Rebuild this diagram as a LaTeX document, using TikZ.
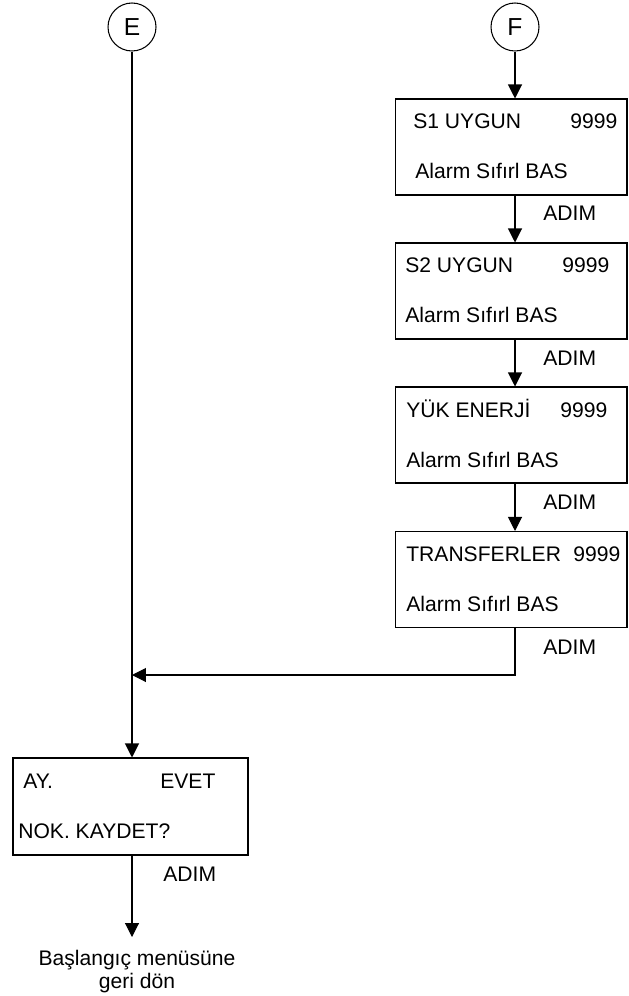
\documentclass[tikz,border=0pt]{standalone}
\usepackage{fontspec}
\setmainfont{Liberation Sans}
\usetikzlibrary{arrows.meta}

\begin{document}
\begin{tikzpicture}[x=0.02cm, y=-0.02cm,
    font=\fontsize{12}{13.1}\selectfont,
    baglac/.style={circle, draw, line width=0.6pt, minimum size=0.96cm, inner sep=0pt, font=\fontsize{14}{16}\selectfont},
    ekran/.style={rectangle, draw, line width=0.6pt, minimum width=4.64cm, minimum height=1.92cm, inner sep=0pt},
    yazi/.style={anchor=base west, inner sep=0pt},
    ok/.style={-{Triangle[length=0.28cm, width=0.28cm]}, line width=0.6pt}]
            \useasboundingbox (0,0) rectangle (628,996);

            % Baglanti daireleri
            \node[baglac] (E) at (132,27) {E};
            \node[baglac] (F) at (515,27) {F};

            % Ekran kutulari
            \node[ekran] (s1) at (511,147) {};
            \node[ekran] (s2) at (511,291) {};
            \node[ekran] (yuk) at (511,435) {};
            \node[ekran] (tr) at (511,579.5) {};
            \node[ekran, minimum width=4.7cm, minimum height=1.94cm] (kay) at (130.5,806.5) {};

            % Kutu yazilari
            \node[yazi] (s1a) at (413,129) {S1 UYGUN};
            \node[yazi] (s1b) at (570,129) {9999};
            \node[yazi] (s1c) at (415,179) {Alarm Sıfırl BAS};
            \node[yazi] (s2a) at (405,273) {S2 UYGUN};
            \node[yazi] (s2b) at (562,273) {9999};
            \node[yazi] (s2c) at (405,323) {Alarm Sıfırl BAS};
            \node[yazi] (yuka) at (406,417) {YÜK ENERJİ};
            \node[yazi] (yukb) at (560,417) {9999};
            \node[yazi] (yukc) at (406,467) {Alarm Sıfırl BAS};
            \node[yazi] (tra) at (406,561) {TRANSFERLER};
            \node[yazi] (trb) at (573,561) {9999};
            \node[yazi] (trc) at (406,611) {Alarm Sıfırl BAS};
            \node[yazi] (kaya) at (23,788) {AY.};
            \node[yazi] (kayb) at (160,788) {EVET};
            \node[yazi] (kayc) at (18,838) {NOK. KAYDET?};

            % ADIM etiketleri
            \node[yazi] (adim1) at (543,221) {ADIM};
            \node[yazi] (adim2) at (543,365) {ADIM};
            \node[yazi] (adim3) at (543,509) {ADIM};
            \node[yazi] (adim4) at (543,654) {ADIM};
            \node[yazi] (adim5) at (163,881) {ADIM};

            \node[align=center, anchor=north, inner sep=0pt] (don) at (137,950) {Başlangıç menüsüne\\geri dön};

            % Oklar
            \draw[ok] (F) -- (F |- s1.north);
            \draw[ok] (F |- s1.south) -- (F |- s2.north);
            \draw[ok] (F |- s2.south) -- (F |- yuk.north);
            \draw[ok] (F |- yuk.south) -- (F |- tr.north);
            \coordinate (birles) at (132,675);
            \draw[ok] (F |- tr.south) |- (birles);
            \draw[ok] (E) -- (E |- kay.north);
            \draw[ok, shorten >=0.26cm] (E |- kay.south) -- (E |- don.north);
          \end{tikzpicture}
\end{document}
